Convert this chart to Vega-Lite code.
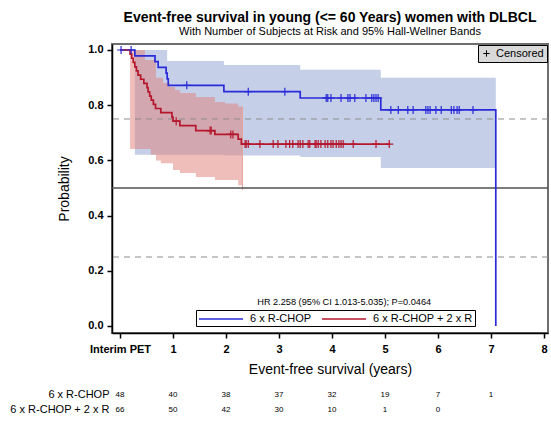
{
  "$schema": "https://vega.github.io/schema/vega-lite/v6.json",
  "padding": {"left": 9, "top": 10, "right": 0, "bottom": 1},
  "bounds": "flush",
  "spacing": 54,
  "title": {
    "text": "Event-free survival in young (<= 60 Years) women with DLBCL",
    "subtitle": "With Number of Subjects at Risk and 95% Hall-Wellner Bands",
    "fontSize": 14, "fontWeight": "bold", "color": "black",
    "subtitleFontSize": 11, "subtitleColor": "black", "subtitlePadding": 1,
    "anchor": "middle", "frame": "group", "offset": 6
  },
  "datasets": {
    "km": [
      {"grp": "6 x R-CHOP", "t": 0, "s": 1},
      {"grp": "6 x R-CHOP", "t": 0.28, "s": 0.979},
      {"grp": "6 x R-CHOP", "t": 0.66, "s": 0.958},
      {"grp": "6 x R-CHOP", "t": 0.72, "s": 0.937},
      {"grp": "6 x R-CHOP", "t": 0.87, "s": 0.916},
      {"grp": "6 x R-CHOP", "t": 0.89, "s": 0.895},
      {"grp": "6 x R-CHOP", "t": 0.91, "s": 0.872},
      {"grp": "6 x R-CHOP", "t": 1.96, "s": 0.849},
      {"grp": "6 x R-CHOP", "t": 3.40, "s": 0.826},
      {"grp": "6 x R-CHOP", "t": 4.92, "s": 0.783},
      {"grp": "6 x R-CHOP", "t": 7.09, "s": 0.0},
      {"grp": "6 x R-CHOP + 2 x R", "t": 0, "s": 1},
      {"grp": "6 x R-CHOP + 2 x R", "t": 0.19, "s": 0.985},
      {"grp": "6 x R-CHOP + 2 x R", "t": 0.22, "s": 0.970},
      {"grp": "6 x R-CHOP + 2 x R", "t": 0.25, "s": 0.955},
      {"grp": "6 x R-CHOP + 2 x R", "t": 0.28, "s": 0.939},
      {"grp": "6 x R-CHOP + 2 x R", "t": 0.31, "s": 0.924},
      {"grp": "6 x R-CHOP + 2 x R", "t": 0.34, "s": 0.909},
      {"grp": "6 x R-CHOP + 2 x R", "t": 0.39, "s": 0.894},
      {"grp": "6 x R-CHOP + 2 x R", "t": 0.45, "s": 0.879},
      {"grp": "6 x R-CHOP + 2 x R", "t": 0.51, "s": 0.864},
      {"grp": "6 x R-CHOP + 2 x R", "t": 0.53, "s": 0.848},
      {"grp": "6 x R-CHOP + 2 x R", "t": 0.56, "s": 0.833},
      {"grp": "6 x R-CHOP + 2 x R", "t": 0.59, "s": 0.818},
      {"grp": "6 x R-CHOP + 2 x R", "t": 0.63, "s": 0.803},
      {"grp": "6 x R-CHOP + 2 x R", "t": 0.67, "s": 0.788},
      {"grp": "6 x R-CHOP + 2 x R", "t": 0.77, "s": 0.773},
      {"grp": "6 x R-CHOP + 2 x R", "t": 0.98, "s": 0.757},
      {"grp": "6 x R-CHOP + 2 x R", "t": 1.00, "s": 0.742},
      {"grp": "6 x R-CHOP + 2 x R", "t": 1.13, "s": 0.726},
      {"grp": "6 x R-CHOP + 2 x R", "t": 1.43, "s": 0.708},
      {"grp": "6 x R-CHOP + 2 x R", "t": 1.79, "s": 0.694},
      {"grp": "6 x R-CHOP + 2 x R", "t": 2.23, "s": 0.677},
      {"grp": "6 x R-CHOP + 2 x R", "t": 2.29, "s": 0.659},
      {"grp": "6 x R-CHOP + 2 x R", "t": 5.09, "s": 0.659}
    ],
    "cens": [
      {"grp": "6 x R-CHOP", "t": 0.02, "s": 1},
      {"grp": "6 x R-CHOP", "t": 0.21, "s": 1},
      {"grp": "6 x R-CHOP", "t": 1.26, "s": 0.872},
      {"grp": "6 x R-CHOP", "t": 2.42, "s": 0.849},
      {"grp": "6 x R-CHOP", "t": 3.11, "s": 0.849},
      {"grp": "6 x R-CHOP", "t": 3.89, "s": 0.826},
      {"grp": "6 x R-CHOP", "t": 3.92, "s": 0.826},
      {"grp": "6 x R-CHOP", "t": 3.98, "s": 0.826},
      {"grp": "6 x R-CHOP", "t": 4.17, "s": 0.826},
      {"grp": "6 x R-CHOP", "t": 4.30, "s": 0.826},
      {"grp": "6 x R-CHOP", "t": 4.34, "s": 0.826},
      {"grp": "6 x R-CHOP", "t": 4.43, "s": 0.826},
      {"grp": "6 x R-CHOP", "t": 4.64, "s": 0.826},
      {"grp": "6 x R-CHOP", "t": 4.75, "s": 0.826},
      {"grp": "6 x R-CHOP", "t": 4.79, "s": 0.826},
      {"grp": "6 x R-CHOP", "t": 4.83, "s": 0.826},
      {"grp": "6 x R-CHOP", "t": 4.87, "s": 0.826},
      {"grp": "6 x R-CHOP", "t": 5.11, "s": 0.783},
      {"grp": "6 x R-CHOP", "t": 5.25, "s": 0.783},
      {"grp": "6 x R-CHOP", "t": 5.43, "s": 0.783},
      {"grp": "6 x R-CHOP", "t": 5.53, "s": 0.783},
      {"grp": "6 x R-CHOP", "t": 5.77, "s": 0.783},
      {"grp": "6 x R-CHOP", "t": 5.81, "s": 0.783},
      {"grp": "6 x R-CHOP", "t": 5.85, "s": 0.783},
      {"grp": "6 x R-CHOP", "t": 5.96, "s": 0.783},
      {"grp": "6 x R-CHOP", "t": 6.06, "s": 0.783},
      {"grp": "6 x R-CHOP", "t": 6.25, "s": 0.783},
      {"grp": "6 x R-CHOP", "t": 6.30, "s": 0.783},
      {"grp": "6 x R-CHOP", "t": 6.36, "s": 0.783},
      {"grp": "6 x R-CHOP", "t": 6.40, "s": 0.783},
      {"grp": "6 x R-CHOP", "t": 6.66, "s": 0.783},
      {"grp": "6 x R-CHOP + 2 x R", "t": 1.06, "s": 0.742},
      {"grp": "6 x R-CHOP + 2 x R", "t": 1.70, "s": 0.708},
      {"grp": "6 x R-CHOP + 2 x R", "t": 1.72, "s": 0.708},
      {"grp": "6 x R-CHOP + 2 x R", "t": 2.09, "s": 0.694},
      {"grp": "6 x R-CHOP + 2 x R", "t": 2.13, "s": 0.694},
      {"grp": "6 x R-CHOP + 2 x R", "t": 2.36, "s": 0.659},
      {"grp": "6 x R-CHOP + 2 x R", "t": 2.38, "s": 0.659},
      {"grp": "6 x R-CHOP + 2 x R", "t": 2.42, "s": 0.659},
      {"grp": "6 x R-CHOP + 2 x R", "t": 2.64, "s": 0.659},
      {"grp": "6 x R-CHOP + 2 x R", "t": 2.89, "s": 0.659},
      {"grp": "6 x R-CHOP + 2 x R", "t": 2.98, "s": 0.659},
      {"grp": "6 x R-CHOP + 2 x R", "t": 3.13, "s": 0.659},
      {"grp": "6 x R-CHOP + 2 x R", "t": 3.20, "s": 0.659},
      {"grp": "6 x R-CHOP + 2 x R", "t": 3.26, "s": 0.659},
      {"grp": "6 x R-CHOP + 2 x R", "t": 3.36, "s": 0.659},
      {"grp": "6 x R-CHOP + 2 x R", "t": 3.40, "s": 0.659},
      {"grp": "6 x R-CHOP + 2 x R", "t": 3.45, "s": 0.659},
      {"grp": "6 x R-CHOP + 2 x R", "t": 3.55, "s": 0.659},
      {"grp": "6 x R-CHOP + 2 x R", "t": 3.58, "s": 0.659},
      {"grp": "6 x R-CHOP + 2 x R", "t": 3.68, "s": 0.659},
      {"grp": "6 x R-CHOP + 2 x R", "t": 3.70, "s": 0.659},
      {"grp": "6 x R-CHOP + 2 x R", "t": 3.74, "s": 0.659},
      {"grp": "6 x R-CHOP + 2 x R", "t": 3.79, "s": 0.659},
      {"grp": "6 x R-CHOP + 2 x R", "t": 3.87, "s": 0.659},
      {"grp": "6 x R-CHOP + 2 x R", "t": 3.92, "s": 0.659},
      {"grp": "6 x R-CHOP + 2 x R", "t": 3.98, "s": 0.659},
      {"grp": "6 x R-CHOP + 2 x R", "t": 4.02, "s": 0.659},
      {"grp": "6 x R-CHOP + 2 x R", "t": 4.08, "s": 0.659},
      {"grp": "6 x R-CHOP + 2 x R", "t": 4.13, "s": 0.659},
      {"grp": "6 x R-CHOP + 2 x R", "t": 4.17, "s": 0.659},
      {"grp": "6 x R-CHOP + 2 x R", "t": 4.21, "s": 0.659},
      {"grp": "6 x R-CHOP + 2 x R", "t": 4.40, "s": 0.659},
      {"grp": "6 x R-CHOP + 2 x R", "t": 4.83, "s": 0.659},
      {"grp": "6 x R-CHOP + 2 x R", "t": 5.08, "s": 0.659}
    ],
    "blueBand": [
      {"t": 0.28, "lo": 0.62, "hi": 1.0},
      {"t": 0.89, "lo": 0.62, "hi": 0.96},
      {"t": 1.96, "lo": 0.618, "hi": 0.946},
      {"t": 3.40, "lo": 0.612, "hi": 0.928},
      {"t": 4.92, "lo": 0.572, "hi": 0.899},
      {"t": 7.09, "lo": 0.572, "hi": 0.899}
    ],
    "redBand": [
      {"t": 0.19, "lo": 0.641, "hi": 1.0},
      {"t": 0.47, "lo": 0.641, "hi": 0.964},
      {"t": 0.58, "lo": 0.62, "hi": 0.964},
      {"t": 0.68, "lo": 0.60, "hi": 0.899},
      {"t": 0.77, "lo": 0.59, "hi": 0.899},
      {"t": 0.81, "lo": 0.59, "hi": 0.88},
      {"t": 0.94, "lo": 0.59, "hi": 0.866},
      {"t": 1.00, "lo": 0.565, "hi": 0.866},
      {"t": 1.04, "lo": 0.565, "hi": 0.855},
      {"t": 1.13, "lo": 0.554, "hi": 0.844},
      {"t": 1.43, "lo": 0.54, "hi": 0.83},
      {"t": 1.79, "lo": 0.529, "hi": 0.812},
      {"t": 1.98, "lo": 0.529, "hi": 0.806},
      {"t": 2.23, "lo": 0.51, "hi": 0.795},
      {"t": 2.31, "lo": 0.51, "hi": 0.795}
    ],
    "risk": [
      {"grp": "6 x R-CHOP", "t": 0, "n": 48},
      {"grp": "6 x R-CHOP", "t": 1, "n": 40},
      {"grp": "6 x R-CHOP", "t": 2, "n": 38},
      {"grp": "6 x R-CHOP", "t": 3, "n": 37},
      {"grp": "6 x R-CHOP", "t": 4, "n": 32},
      {"grp": "6 x R-CHOP", "t": 5, "n": 19},
      {"grp": "6 x R-CHOP", "t": 6, "n": 7},
      {"grp": "6 x R-CHOP", "t": 7, "n": 1},
      {"grp": "6 x R-CHOP + 2 x R", "t": 0, "n": 66},
      {"grp": "6 x R-CHOP + 2 x R", "t": 1, "n": 50},
      {"grp": "6 x R-CHOP + 2 x R", "t": 2, "n": 42},
      {"grp": "6 x R-CHOP + 2 x R", "t": 3, "n": 30},
      {"grp": "6 x R-CHOP + 2 x R", "t": 4, "n": 10},
      {"grp": "6 x R-CHOP + 2 x R", "t": 5, "n": 1},
      {"grp": "6 x R-CHOP + 2 x R", "t": 6, "n": 0}
    ]
  },
  "vconcat": [
    {
      "width": 436,
      "height": 289,
      "layer": [
        {
          "data": {"name": "blueBand"},
          "mark": {"type": "area", "interpolate": "step-after", "color": "#c5d0e8"},
          "encoding": {
            "x": {"field": "t", "type": "quantitative", "scale": {"domain": [-0.151, 8.075], "nice": false, "zero": false},
              "axis": {"values": [0, 1, 2, 3, 4, 5, 6, 7, 8], "format": "d", "labelExpr": "datum.value == 0 ? 'Interim PET' : datum.label",
                "labelFontWeight": "bold", "labelFontSize": 11, "tickSize": 5, "labelPadding": 5, "labelFlush": false,
                "title": "Event-free survival (years)", "titleFontSize": 14, "titleFontWeight": "normal", "titlePadding": 8}},
            "y": {"field": "lo", "type": "quantitative", "scale": {"domain": [-0.0254, 1.0217], "nice": false, "zero": false},
              "axis": {"values": [0, 0.2, 0.4, 0.6, 0.8, 1.0], "format": ".1f", "labelFontWeight": "bold", "labelFontSize": 11,
                "tickSize": 5, "labelPadding": 4, "title": "Probability", "titleFontSize": 14, "titleFontWeight": "normal", "titlePadding": 16}},
            "y2": {"field": "hi"}
          }
        },
        {
          "data": {"name": "redBand"},
          "mark": {"type": "area", "interpolate": "step-after", "color": "#e17d75", "opacity": 0.5},
          "encoding": {
            "x": {"field": "t", "type": "quantitative"},
            "y": {"field": "lo", "type": "quantitative"},
            "y2": {"field": "hi"}
          }
        },
        {
          "data": {"values": [{}]},
          "mark": {"type": "rule", "color": "#e8a39d", "strokeWidth": 1},
          "encoding": {"x": {"datum": 2.31}, "y": {"datum": 0.493}, "y2": {"datum": 0.795}}
        },
        {
          "data": {"values": [{}]},
          "mark": {"type": "rule", "color": "#8c8c8c", "strokeDash": [6, 5], "strokeWidth": 1},
          "encoding": {"y": {"datum": 0.75}}
        },
        {
          "data": {"values": [{}]},
          "mark": {"type": "rule", "color": "#8c8c8c", "strokeDash": [6, 5], "strokeWidth": 1},
          "encoding": {"y": {"datum": 0.25}}
        },
        {
          "data": {"values": [{}]},
          "mark": {"type": "rule", "color": "#505050", "strokeWidth": 1.5},
          "encoding": {"y": {"datum": 0.5}}
        },
        {
          "data": {"name": "km"},
          "mark": {"type": "line", "interpolate": "step-after", "strokeWidth": 1.7},
          "encoding": {
            "x": {"field": "t", "type": "quantitative"},
            "y": {"field": "s", "type": "quantitative"},
            "color": {"field": "grp", "type": "nominal",
              "scale": {"domain": ["6 x R-CHOP", "6 x R-CHOP + 2 x R"], "range": ["#2a2ad8", "#b5172d"]},
              "legend": {"orient": "none", "legendX": 84, "legendY": 266, "direction": "horizontal", "title": null,
                "symbolType": "M-3.67,0L3.67,0", "symbolSize": 144, "symbolStrokeWidth": 1.5, "symbolOffset": 16,
                "labelFontSize": 11, "labelColor": "black", "labelOffset": 22,
                "strokeColor": "black", "padding": 2, "columnPadding": 6}}
          }
        },
        {
          "data": {"name": "cens"},
          "mark": {"type": "point", "filled": false, "size": 64, "strokeWidth": 1.2, "opacity": 1},
          "encoding": {
            "x": {"field": "t", "type": "quantitative"},
            "y": {"field": "s", "type": "quantitative"},
            "stroke": {"field": "grp", "type": "nominal",
              "scale": {"domain": ["6 x R-CHOP", "6 x R-CHOP + 2 x R"], "range": ["#2a2ad8", "#b5172d"]}, "legend": null},
            "shape": {"datum": "Censored", "scale": {"range": ["M-1,0L1,0M0,-1L0,1"]},
              "legend": {"orient": "top-right", "offset": 1, "title": null, "fillColor": "#d9d9d9", "strokeColor": "black",
                "padding": 3, "labelFontSize": 11, "labelColor": "black", "symbolStrokeColor": "black", "symbolSize": 40, "symbolStrokeWidth": 1}}
          }
        },
        {
          "data": {"values": [{}]},
          "mark": {"type": "text", "fontSize": 9.2, "color": "black"},
          "encoding": {"x": {"datum": 4.23}, "y": {"datum": 0.087}, "text": {"value": "HR 2.258 (95% CI 1.013-5.035); P=0.0464"}}
        }
      ]
    },
    {
      "width": 436,
      "height": 30,
      "view": {"stroke": null},
      "data": {"name": "risk"},
      "mark": {"type": "text", "fontSize": 8, "color": "black"},
      "encoding": {
        "x": {"field": "t", "type": "quantitative", "scale": {"domain": [-0.151, 8.075], "nice": false, "zero": false}, "axis": null},
        "y": {"field": "grp", "type": "nominal", "sort": ["6 x R-CHOP", "6 x R-CHOP + 2 x R"],
          "axis": {"title": null, "domain": false, "ticks": false, "labelFontSize": 11, "labelPadding": 3, "labelColor": "black"}},
        "text": {"field": "n"}
      }
    }
  ],
  "resolve": {"scale": {"x": "independent", "y": "independent"}},
  "config": {
    "font": "Liberation Sans",
    "view": {"stroke": "#6e6e6e", "strokeWidth": 2},
    "axis": {"domainColor": "black", "tickColor": "black", "labelColor": "black", "titleColor": "black", "grid": false, "domainWidth": 1.5, "tickWidth": 1.5}
  }
}
